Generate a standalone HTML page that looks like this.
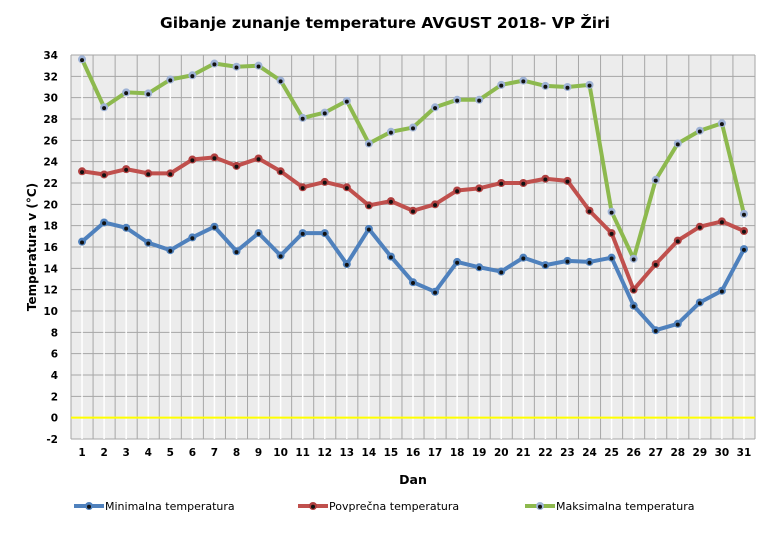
<!DOCTYPE html>
<html><head><meta charset="utf-8"><style>
body{margin:0;background:#fff;font-family:"DejaVu Sans",sans-serif}
</style></head><body>
<svg id="c" width="770" height="532" xmlns="http://www.w3.org/2000/svg" font-family="DejaVu Sans, sans-serif"></svg>
<script>
const L=71,R=755,T=55,B=439,n=31,w=(R-L)/n;
const y=v=>T+(34-v)*(B-T)/36, x=i=>L+w*(i+0.5);
const mx=[33.6,29.1,30.5,30.4,31.7,32.1,33.2,32.9,33.0,31.6,28.1,28.6,29.7,25.7,26.8,27.2,29.1,29.8,29.8,31.2,31.6,31.1,31.0,31.2,19.3,14.9,22.3,25.7,26.9,27.6,19.1];
const av=[23.1,22.8,23.3,22.9,22.9,24.2,24.4,23.6,24.3,23.1,21.6,22.1,21.6,19.9,20.3,19.4,20.0,21.3,21.5,22.0,22.0,22.4,22.2,19.4,17.3,12.0,14.4,16.6,17.9,18.4,17.5];
const mn=[16.5,18.3,17.8,16.4,15.7,16.9,17.9,15.6,17.3,15.2,17.3,17.3,14.4,17.7,15.1,12.7,11.8,14.6,14.1,13.7,15.0,14.3,14.7,14.6,15.0,10.5,8.2,8.8,10.8,11.9,15.8];
let s=`<text x="385" y="28" text-anchor="middle" font-size="15.5" font-weight="bold" textLength="450" lengthAdjust="spacingAndGlyphs">Gibanje zunanje  temperature AVGUST 2018- VP Žiri</text>`;
s+=`<rect x="${L}" y="${T}" width="${R-L}" height="${B-T}" fill="#ececec"/>`;
for(let v=-2;v<=34;v+=2){s+=`<line x1="${L}" x2="${R}" y1="${y(v)}" y2="${y(v)}" stroke="#a6a6a6" stroke-width="1"/>`;
s+=`<text x="${L-13}" y="${y(v)+4}" text-anchor="end" font-size="10.5" font-weight="bold">${v}</text>`;}
for(let i=0;i<=n;i++){s+=`<line x1="${L+w*i}" x2="${L+w*i}" y1="${T}" y2="${B}" stroke="#a6a6a6"/>`;}
for(let i=0;i<n;i++){s+=`<line x1="${x(i)}" x2="${x(i)}" y1="${y(mx[i])}" y2="${B}" stroke="#fff" stroke-width="1.5"/>`;
s+=`<text x="${x(i)}" y="${B+17}" text-anchor="middle" font-size="10.5" font-weight="bold">${i+1}</text>`;}
s+=`<line x1="${L}" x2="${R}" y1="${y(0)}" y2="${y(0)}" stroke="#ffff00" stroke-width="2"/>`;
function ser(d,c,mc){let p=d.map((v,i)=>`${x(i)},${y(v)}`).join(' ');
let r=`<polyline points="${p}" fill="none" stroke="${c}" stroke-width="4" stroke-linejoin="round"/>`;
d.forEach((v,i)=>{r+=`<circle cx="${x(i)}" cy="${y(v)}" r="4" fill="${mc}"/><circle cx="${x(i)}" cy="${y(v)+0.8}" r="2" fill="#111"/>`});return r;}
s+=ser(mx,'#8db94e','#9fb3d6');s+=ser(av,'#c0504d','#b04040');s+=ser(mn,'#4f81bd','#4f81bd');
s+=`<text x="413" y="484" text-anchor="middle" font-size="12.5" font-weight="bold">Dan</text>`;
s+=`<text transform="translate(36,247) rotate(-90)" text-anchor="middle" font-size="12" font-weight="bold">Temperatura v (°C)</text>`;
function lg(x0,c,mc,t){return `<line x1="${x0}" x2="${x0+30}" y1="506" y2="506" stroke="${c}" stroke-width="4"/><circle cx="${x0+15}" cy="506" r="4" fill="${mc}"/><circle cx="${x0+15}" cy="506.8" r="2" fill="#111"/><text x="${x0+31}" y="510" font-size="11">${t}</text>`;}
s+=lg(74,'#4f81bd','#4f81bd','Minimalna temperatura');
s+=lg(298,'#c0504d','#b04040','Povprečna temperatura');
s+=lg(525,'#8db94e','#9fb3d6','Maksimalna temperatura');
document.getElementById('c').innerHTML=s;
</script>
</body></html>
